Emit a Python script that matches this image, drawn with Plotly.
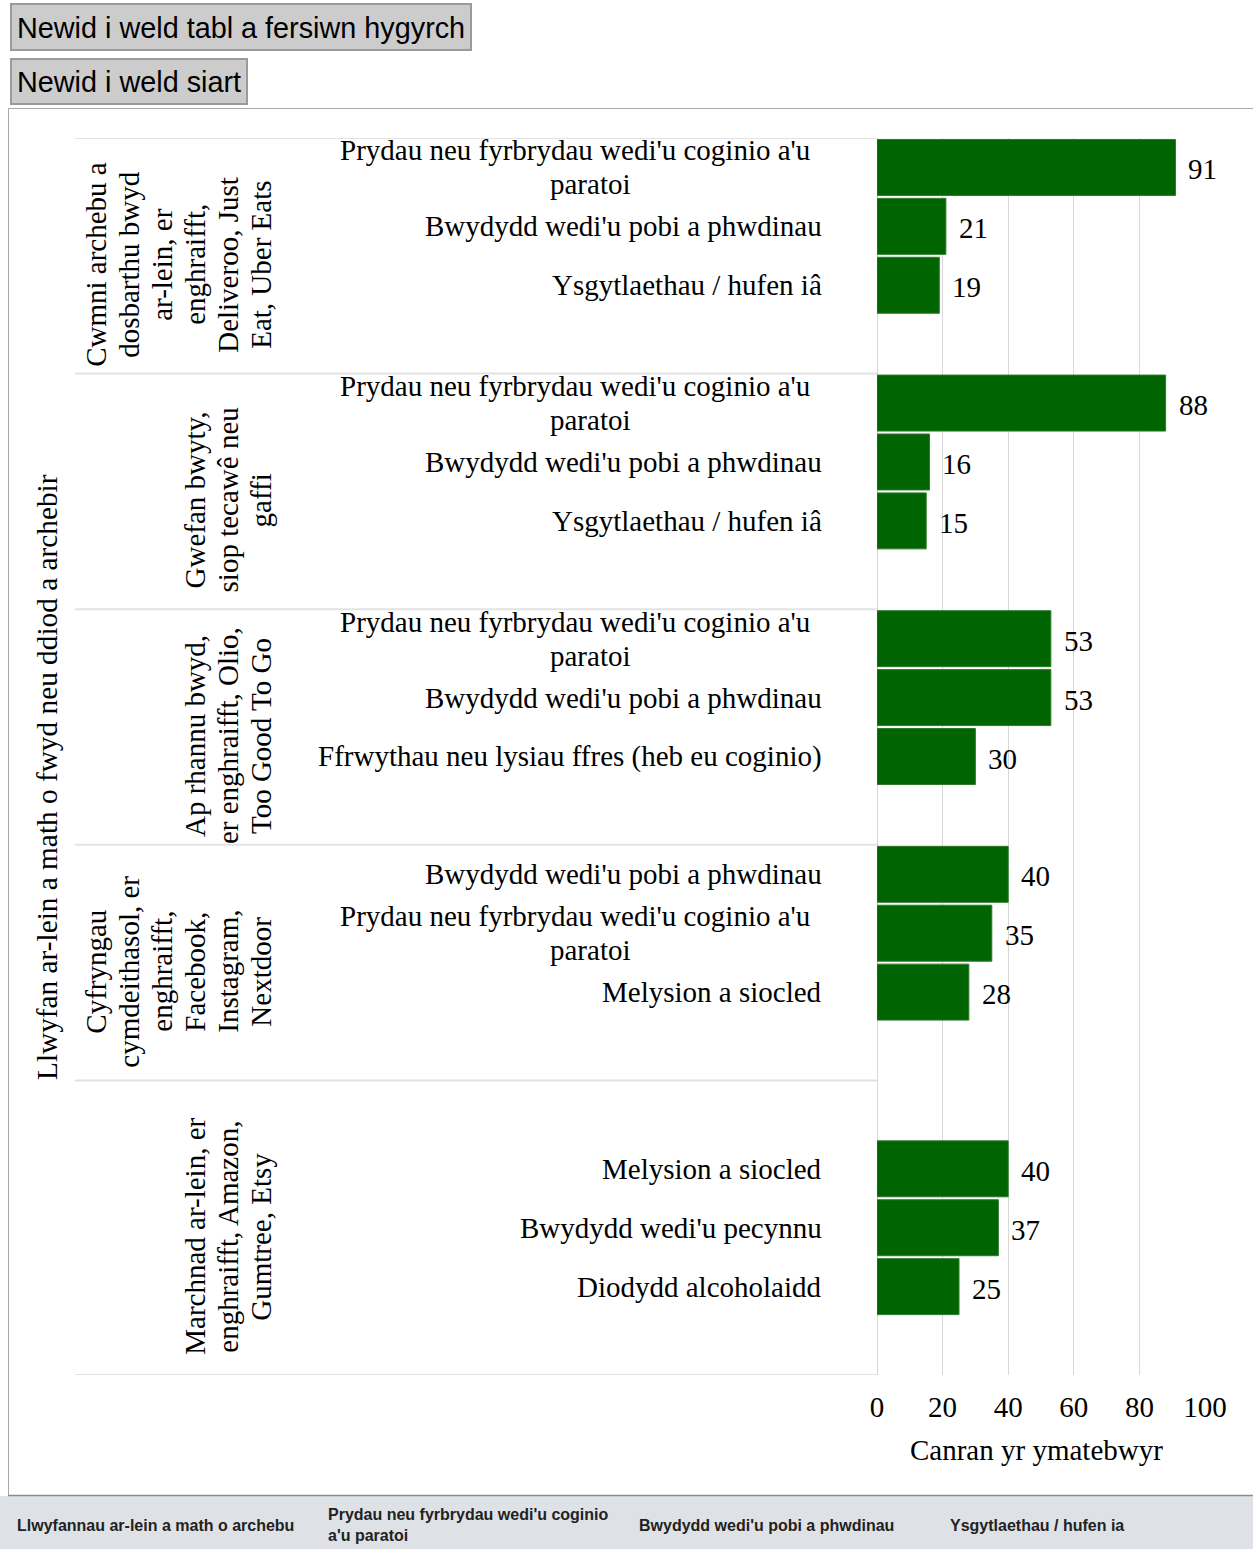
import plotly.graph_objects as go

# ---- data -------------------------------------------------------------
platforms = [
    ["Cwmni archebu a", "dosbarthu bwyd", "ar-lein, er", "enghraifft,", "Deliveroo, Just", "Eat, Uber Eats"],
    ["Gwefan bwyty,", "siop tecawê neu", "gaffi"],
    ["Ap rhannu bwyd,", "er enghraifft, Olio,", "Too Good To Go"],
    ["Cyfryngau", "cymdeithasol, er", "enghraifft,", "Facebook,", "Instagram,", "Nextdoor"],
    ["Marchnad ar-lein, er", "enghraifft, Amazon,", "Gumtree, Etsy"],
]
food_types = [
    ["Prydau neu fyrbrydau wedi'u coginio a'u<br>paratoi", "Bwydydd wedi'u pobi a phwdinau", "Ysgytlaethau / hufen iâ"],
    ["Prydau neu fyrbrydau wedi'u coginio a'u<br>paratoi", "Bwydydd wedi'u pobi a phwdinau", "Ysgytlaethau / hufen iâ"],
    ["Prydau neu fyrbrydau wedi'u coginio a'u<br>paratoi", "Bwydydd wedi'u pobi a phwdinau", "Ffrwythau neu lysiau ffres (heb eu coginio)"],
    ["Bwydydd wedi'u pobi a phwdinau", "Prydau neu fyrbrydau wedi'u coginio a'u<br>paratoi", "Melysion a siocled"],
    ["Melysion a siocled", "Bwydydd wedi'u pecynnu", "Diodydd alcoholaidd"],
]
percentages = [
    [91, 21, 19],
    [88, 16, 15],
    [53, 53, 30],
    [40, 35, 28],
    [40, 37, 25],
]
# empty category rows before / after each platform block
blank_before = [0, 0, 0, 0, 1]
blank_after = [1, 1, 1, 1, 1]

x_ticks = [0, 20, 40, 60, 80, 100]
x_title = "Canran yr ymatebwyr"
y_title = "Llwyfan ar-lein a math o fwyd neu ddiod a archebir"
buttons = ["Newid i weld tabl a fersiwn hygyrch", "Newid i weld siart"]
table_header = [
    "Llwyfannau ar-lein a math o archebu",
    "Prydau neu fyrbrydau wedi'u coginio<br>a'u paratoi",
    "Bwydydd wedi'u pobi a phwdinau",
    "Ysgytlaethau / hufen ia",
]

# ---- page geometry (pixels) ------------------------------------------
W, H = 1253, 1549


def px(x):
    return x / W


def py(y):
    return 1 - y / H


SERIF = "Liberation Serif, Times New Roman, serif"
SANS = "Liberation Sans, Arial, sans-serif"
GREEN = "#006400"
FS = 29            # chart text size
LINE_STEP = 33     # spacing of stacked platform-label lines
LABEL_STEP = 34    # spacing of wrapped food-type label lines

# ---- build the category rows -----------------------------------------
rows = []          # every category row, in display order
bar_rows, bar_vals, bar_labels = [], [], []
group_bounds = []  # (first_index, last_index) per platform
for g, (items, vals) in enumerate(zip(food_types, percentages)):
    start = len(rows)
    for k in range(blank_before[g]):
        rows.append(f"g{g}-pre{k}")
    for k, (lab, v) in enumerate(zip(items, vals)):
        rid = f"g{g}-i{k}"
        rows.append(rid)
        bar_rows.append(rid)
        bar_vals.append(v)
        bar_labels.append(lab)
    for k in range(blank_after[g]):
        rows.append(f"g{g}-post{k}")
    group_bounds.append((start, len(rows) - 1))

fig = go.Figure()
fig.add_trace(go.Bar(
    x=bar_vals, y=bar_rows, orientation="h",
    marker=dict(color=GREEN, line=dict(color="#2c7a2c", width=1)),
    hoverinfo="x+y", showlegend=False,
))

annotations = []
shapes = []

# value labels next to each bar
for rid, v in zip(bar_rows, bar_vals):
    annotations.append(dict(
        x=v, y=rid, xref="x", yref="y", text=str(v), showarrow=False,
        xanchor="left", yanchor="middle", xshift=11, yshift=-2,
        font=dict(family=SERIF, size=FS, color="#000"),
    ))

# food-type labels (category axis labels); wrapped labels are stacked
# line by line, continuation lines centred under the first one
for rid, lab in zip(bar_rows, bar_labels):
    parts = lab.split("<br>")
    if len(parts) == 1:
        annotations.append(dict(
            x=px(824), y=rid, xref="paper", yref="y", text=lab, showarrow=False,
            xanchor="right", yanchor="middle",
            font=dict(family=SERIF, size=FS, color="#000"),
        ))
        continue
    mid = (len(parts) - 1) / 2
    for k, part in enumerate(parts):
        first = k == 0
        annotations.append(dict(
            x=px(812) if first else px(590), y=rid, xref="paper", yref="y",
            text=part, showarrow=False,
            xanchor="right" if first else "center", yanchor="middle",
            yshift=(mid - k) * LABEL_STEP,
            font=dict(family=SERIF, size=FS, color="#000"),
        ))

# platform labels: rotated, one column per text line
n = len(rows)
last_line_x = 261
for g, (a, b) in enumerate(group_bounds):
    lines = platforms[g]
    for i, line in enumerate(lines):
        annotations.append(dict(
            x=px(last_line_x - (len(lines) - 1 - i) * LINE_STEP), y=(a + b) / 2,
            xref="paper", yref="y", text=line, showarrow=False, textangle=-90,
            xanchor="center", yanchor="middle", yshift=-9,
            font=dict(family=SERIF, size=FS, color="#000"),
        ))
for edge in [-0.5] + [b + 0.5 for _, b in group_bounds]:
    shapes.append(dict(
        type="line", xref="paper", yref="y", x0=px(75), x1=px(877),
        y0=edge, y1=edge, line=dict(color="#e3e3e3", width=2), layer="below",
    ))

# axis titles
annotations.append(dict(
    x=px(47), y=py(777), xref="paper", yref="paper", text=y_title,
    showarrow=False, textangle=-90, xanchor="center", yanchor="middle",
    font=dict(family=SERIF, size=29.3, color="#000"),
))
annotations.append(dict(
    x=px(1036), y=py(1450), xref="paper", yref="paper", text=x_title,
    showarrow=False, xanchor="center", yanchor="middle",
    font=dict(family=SERIF, size=FS, color="#000"),
))

# chart container frame (left and top edges; the right edge runs off the page)
frame = dict(color="#a8a8a8", width=1)
shapes.append(dict(type="line", xref="paper", yref="paper",
                   x0=px(8.5), x1=px(8.5), y0=py(108.5), y1=py(1495.5), line=frame))
shapes.append(dict(type="line", xref="paper", yref="paper",
                   x0=px(8.5), x1=1, y0=py(108.5), y1=py(108.5), line=frame))

# toggle buttons above the chart
button_boxes = [(11, 471, 4, 50), (11, 247, 59, 104)]
for label, (x0, x1, y0, y1) in zip(buttons, button_boxes):
    shapes.append(dict(
        type="rect", xref="paper", yref="paper",
        x0=px(x0), x1=px(x1), y0=py(y0), y1=py(y1),
        fillcolor="#cccccc", line=dict(color="#9a9a9a", width=2), layer="below",
    ))
    annotations.append(dict(
        x=px(x0 + 4), y=py((y0 + y1) / 2 + 1), xref="paper", yref="paper",
        text=label, showarrow=False, xanchor="left", yanchor="middle",
        font=dict(family=SANS, size=28.8, color="#000"),
    ))

# table header strip below the chart
shapes.append(dict(
    type="rect", xref="paper", yref="paper",
    x0=0, x1=1, y0=0, y1=py(1496),
    fillcolor="#dee2e6", line=dict(width=0), layer="below",
))
shapes.append(dict(
    type="line", xref="paper", yref="paper",
    x0=px(8), x1=1, y0=py(1495.5), y1=py(1495.5),
    line=dict(color="#8c8c8c", width=1.5),
))
for i, head in enumerate(table_header):
    annotations.append(dict(
        x=px(15 + 311 * i), y=py(1525), xref="paper", yref="paper",
        text=f"<b>{head}</b>", showarrow=False, xanchor="left",
        yanchor="middle", align="left",
        font=dict(family=SANS, size=16, color="#222"),
    ))

fig.update_layout(
    width=W, height=H,
    # fixed zero margins: labels near the edges must not widen them
    margin=dict(l=0, r=0, t=0, b=0, autoexpand=False),
    paper_bgcolor="#ffffff", plot_bgcolor="#ffffff",
    bargap=0.05,
    showlegend=False,
    xaxis=dict(
        domain=[px(877), px(1205)], range=[0, 100],
        tickvals=x_ticks, ticktext=[str(t) for t in x_ticks],
        showgrid=True, gridcolor="#d8d8d8", gridwidth=1.3,
        zeroline=True, zerolinecolor="#d8d8d8", zerolinewidth=1.3,
        showline=False, ticks="", ticklabelstandoff=12,
        tickfont=dict(family=SERIF, size=FS, color="#000"),
        fixedrange=True, automargin=False,
    ),
    yaxis=dict(
        domain=[py(1375), py(138)],
        type="category", categoryorder="array", categoryarray=rows,
        range=[n - 0.5, -0.5],
        showticklabels=False, showgrid=False, zeroline=False, showline=False,
        ticks="", fixedrange=True, automargin=False,
    ),
    annotations=annotations,
    shapes=shapes,
)

fig.write_html("out.html")
